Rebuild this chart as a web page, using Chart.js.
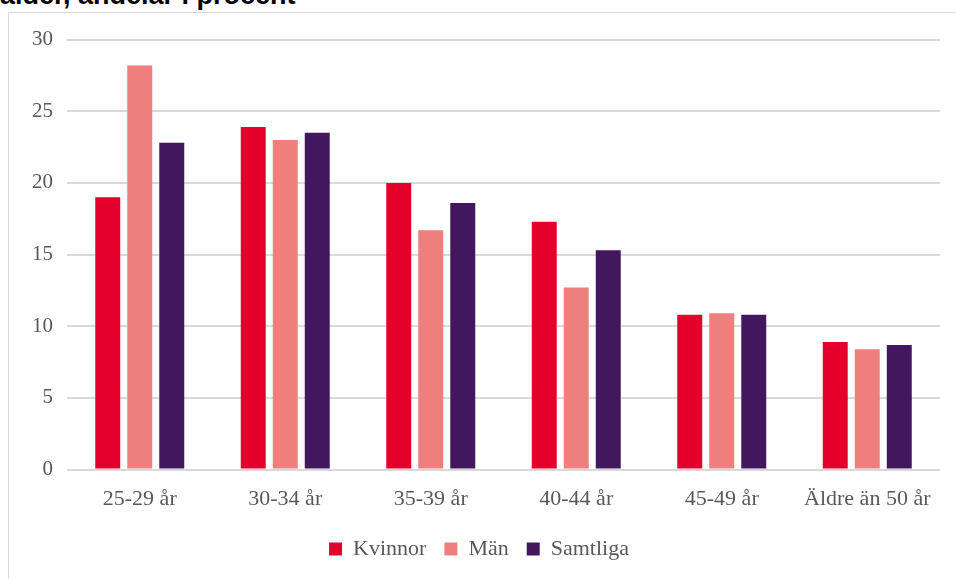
<!DOCTYPE html>
<html>
<head>
<meta charset="utf-8">
<script src="https://cdn.jsdelivr.net/npm/chart.js@4"></script>
<style>
  body { margin: 0; width: 956px; height: 579px; overflow: hidden; background: #fff; position: relative; }
  .title { position: absolute; left: 0; top: -20px; font: bold 27px/30px "Liberation Sans", Arial, sans-serif; color: #000; white-space: nowrap; }
  .frame { position: absolute; left: 8px; top: 12px; width: 960px; height: 580px; border: 1px solid #d9d9d9; box-sizing: border-box; }
  .graph-container { position: absolute; left: 9px; top: 13px; width: 947px; height: 566px; }
</style>
</head>
<body>
<div class="title">ålder, andelar i procent</div>
<div class="frame"></div>
<div class="graph-container"><canvas id="chart"></canvas></div>
<script>
// Données du graphique
const categories = ['25-29 år', '30-34 år', '35-39 år', '40-44 år', '45-49 år', 'Äldre än 50 år'];
const kvinnor = [19.0, 23.9, 20.0, 17.3, 10.8, 8.9];
const man = [28.2, 23.0, 16.7, 12.7, 10.9, 8.4];
const samtliga = [22.8, 23.5, 18.6, 15.3, 10.8, 8.7];

const labelFont = { family: 'Liberation Serif', size: 22 };
const yFont = { family: 'Liberation Serif', size: 21 };

function drawChart() {
    const ctx = document.getElementById('chart').getContext('2d');
    new Chart(ctx, {
        type: 'bar',
        data: {
            labels: categories,
            datasets: [
                { label: 'Kvinnor', data: kvinnor, backgroundColor: '#E4002B' },
                { label: 'Män', data: man, backgroundColor: '#EE7F7C' },
                { label: 'Samtliga', data: samtliga, backgroundColor: '#42175E' }
            ]
        },
        options: {
            responsive: true,
            maintainAspectRatio: false,
            animation: false,
            layout: { padding: { left: 9, right: 16, top: 23, bottom: 9 } },
            datasets: { bar: { categoryPercentage: 0.66, barPercentage: 0.78 } },
            scales: {
                x: {
                    grid: { display: false },
                    border: { display: false },
                    ticks: { color: '#595959', font: labelFont, padding: 8, maxRotation: 0 }
                },
                y: {
                    min: 0,
                    max: 30,
                    ticks: { stepSize: 5, color: '#595959', font: yFont, padding: 14 },
                    grid: { color: '#d9d9d9', lineWidth: 2, drawTicks: false },
                    border: { display: false }
                }
            },
            plugins: {
                tooltip: { enabled: false },
                legend: {
                    position: 'bottom',
                    labels: {
                        boxWidth: 13,
                        boxHeight: 13,
                        padding: 18,
                        color: '#595959',
                        font: labelFont
                    }
                }
            }
        }
    });
}

document.fonts.load('22px "Liberation Serif"').then(drawChart, drawChart);
</script>
</body>
</html>
